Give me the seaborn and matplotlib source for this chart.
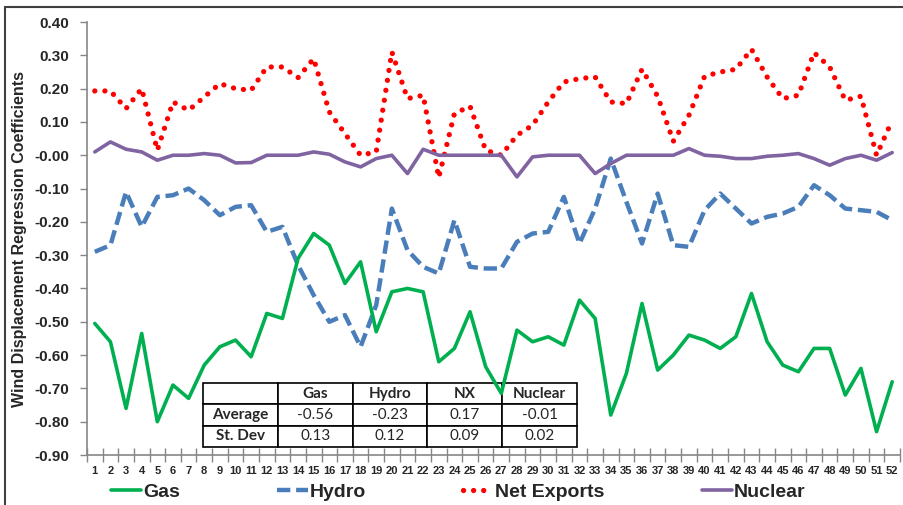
import numpy as np
import pandas as pd
import seaborn as sns
import matplotlib.pyplot as plt
from matplotlib.lines import Line2D

# weekly wind displacement coefficients
weeks = list(range(1, 53))
gas = [-0.505, -0.56, -0.76, -0.535, -0.80, -0.69, -0.73, -0.63, -0.575, -0.555,
       -0.605, -0.475, -0.49, -0.31, -0.235, -0.27, -0.385, -0.32, -0.53, -0.41,
       -0.40, -0.41, -0.62, -0.58, -0.47, -0.635, -0.715, -0.525, -0.56, -0.545,
       -0.57, -0.435, -0.49, -0.78, -0.655, -0.445, -0.645, -0.60, -0.54, -0.555,
       -0.58, -0.545, -0.415, -0.56, -0.63, -0.65, -0.58, -0.58, -0.72, -0.64,
       -0.83, -0.68]
hydro = [-0.29, -0.27, -0.11, -0.215, -0.125, -0.12, -0.10, -0.135, -0.18, -0.155,
         -0.15, -0.23, -0.215, -0.33, -0.42, -0.50, -0.48, -0.575, -0.45, -0.16,
         -0.285, -0.335, -0.355, -0.195, -0.335, -0.34, -0.34, -0.26, -0.235, -0.23,
         -0.125, -0.265, -0.16, -0.01, -0.14, -0.265, -0.115, -0.27, -0.275, -0.165,
         -0.115, -0.16, -0.205, -0.185, -0.175, -0.155, -0.09, -0.12, -0.16, -0.165,
         -0.17, -0.195]
net_exports = [0.193, 0.193, 0.14, 0.20, 0.015, 0.16, 0.135, 0.175, 0.215, 0.20,
               0.195, 0.265, 0.265, 0.233, 0.29, 0.13, 0.065, 0.0, 0.01, 0.31,
               0.17, 0.18, -0.067, 0.125, 0.147, 0.015, 0.0, 0.06, 0.09, 0.16,
               0.22, 0.23, 0.235, 0.16, 0.155, 0.258, 0.177, 0.042, 0.12, 0.237,
               0.25, 0.258, 0.318, 0.235, 0.17, 0.18, 0.308, 0.265, 0.165, 0.177,
               0.0, 0.105]
nuclear = [0.01, 0.04, 0.018, 0.01, -0.015, 0.0, 0.0, 0.005, 0.0, -0.023,
           -0.022, 0.0, 0.0, 0.0, 0.01, 0.003, -0.02, -0.035, -0.01, 0.0,
           -0.055, 0.018, 0.0, 0.0, 0.0, 0.0, 0.0, -0.065, -0.005, 0.0,
           0.0, 0.0, -0.055, -0.025, 0.0, 0.0, 0.0, 0.0, 0.02, 0.0,
           -0.003, -0.01, -0.01, -0.003, 0.0, 0.005, -0.01, -0.03, -0.01, 0.0,
           -0.015, 0.008]

# summary table
table_cols = ['', 'Gas', 'Hydro', 'NX', 'Nuclear']
table_rows = [['Average', '-0.56', '-0.23', '0.17', '-0.01'],
              ['St. Dev', '0.13', '0.12', '0.09', '0.02']]

df = pd.DataFrame({'week': weeks, 'Gas': gas, 'Hydro': hydro,
                   'Net Exports': net_exports, 'Nuclear': nuclear})

sns.set_style('white')
plt.rcParams['font.family'] = ['Liberation Sans', 'DejaVu Sans']

fig = plt.figure(figsize=(9.04, 5.05), dpi=100)
ax = fig.add_axes([0.0962, 0.099, 0.8994, 0.8574])

axis_gray = '#868686'

sns.lineplot(data=df, x='week', y='Gas', ax=ax, color='#00B050', lw=2.6,
             label='Gas', zorder=4)
sns.lineplot(data=df, x='week', y='Hydro', ax=ax, color='#4A7EBB', lw=3.2,
             label='Hydro', zorder=3, dashes=False)
ax.lines[-1].set_linestyle((0, (3.0, 1.3)))
sns.lineplot(data=df, x='week', y='Net Exports', ax=ax, color='#FF0000', lw=3.8,
             label='Net Exports', zorder=3)
ax.lines[-1].set_linestyle((0, (0.01, 1.9)))
ax.lines[-1].set_dash_capstyle('round')
sns.lineplot(data=df, x='week', y='Nuclear', ax=ax, color='#8064A2', lw=2.6,
             label='Nuclear', zorder=3)

ax.set_xlim(0.5, 52.5)
ax.set_ylim(-0.9, 0.4)
ax.set_xlabel('')
ax.set_ylabel('Wind Displacement Regression Coefficients', fontsize=11.5,
              fontweight='bold', labelpad=5)

ax.set_yticks(np.arange(-0.9, 0.41, 0.1))
ax.set_yticklabels([f'{v:.2f}' for v in np.arange(-0.9, 0.41, 0.1)])
ax.set_xticks(weeks)
ax.set_xticklabels([str(w) for w in weeks])
ax.set_xticks(np.arange(0.5, 53, 1), minor=True)

ax.tick_params(axis='y', direction='out', length=5, width=1, color=axis_gray,
               labelsize=11, pad=8, left=True)
ax.tick_params(axis='x', which='major', length=0, labelsize=8, pad=8)
ax.tick_params(axis='x', which='minor', direction='inout', length=10, width=1,
               color=axis_gray, bottom=True)
for lab in ax.get_xticklabels() + ax.get_yticklabels():
    lab.set_fontweight('bold')
    lab.set_color('#262626')

sns.despine(ax=ax)
for s in ['left', 'bottom']:
    ax.spines[s].set_color(axis_gray)
    ax.spines[s].set_linewidth(1.2)

# summary statistics table inside the plot
tbl = ax.table(cellText=table_rows, colLabels=table_cols,
               bbox=[0.1427, 0.0185, 0.46, 0.148], cellLoc='center')
tbl.auto_set_font_size(False)
tbl.set_zorder(2)
for (r, c), cell in tbl.get_celld().items():
    cell.set_edgecolor('black')
    cell.set_linewidth(1.2)
    cell.set_facecolor('white')
    txt = cell.get_text()
    txt.set_fontsize(11)
    txt.set_fontfamily('Lato')
    if r == 0 or c == 0:
        txt.set_fontweight('bold')

ax.get_legend().remove()
handles, labels = ax.get_legend_handles_labels()
fig.legend(handles, labels, loc='center', bbox_to_anchor=(0.507, 0.026),
           ncol=4, frameon=False, handlelength=1.55, handletextpad=0.1,
           columnspacing=5.0, prop={'weight': 'bold', 'size': 14})

# outer frame lines (top and left)
fig.add_artist(Line2D([0.006, 1.0], [0.986, 0.986], color='#404040', lw=1.5,
                      transform=fig.transFigure))
fig.add_artist(Line2D([0.006, 0.006], [0.0, 0.986], color='#404040', lw=1.5,
                      transform=fig.transFigure))

fig.savefig('out.png', dpi=100)
